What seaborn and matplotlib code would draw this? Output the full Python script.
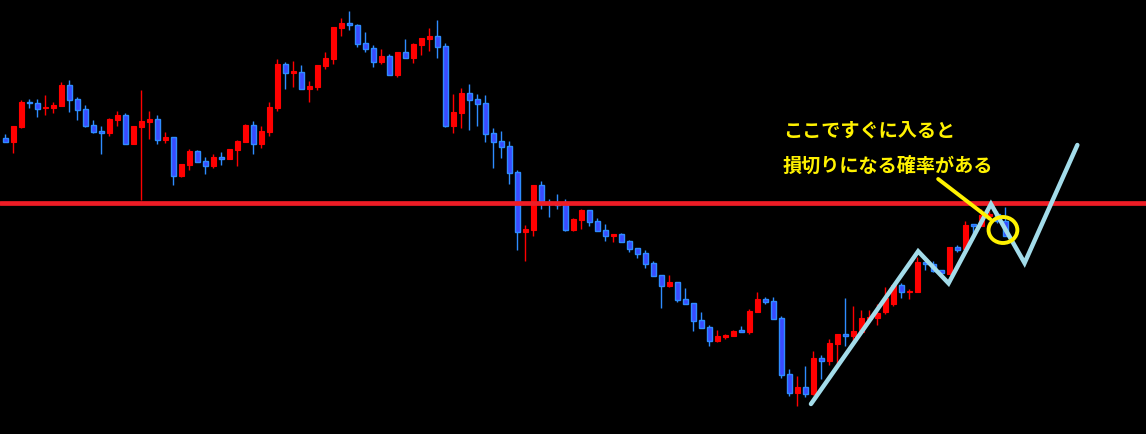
import numpy as np
import pandas as pd
import matplotlib
matplotlib.use("Agg")
import matplotlib.pyplot as plt
import seaborn as sns
from matplotlib.patches import Ellipse

# ---- candle data (price units) ----
opens = [295.7, 292.3, 307.3, 332, 331, 326, 326, 328.3, 349, 334.7,
         324.7, 309, 303, 301.3, 314.3, 319, 290.3, 307.3, 312, 315,
         294.3, 297, 258.3, 269.3, 283, 272.7, 268.3, 277, 275.3, 284.3,
         292.3, 309, 290.3, 302.3, 326.3, 370, 361.5, 362, 345.3, 347,
         368, 375.3, 406, 411, 409, 391, 386, 372.3, 378, 359.3,
         382, 376.3, 389.3, 395.3, 398, 388, 308.3, 321.3, 341, 335,
         331, 301, 293, 288, 262, 202.3, 204, 249, 232, 231,
         232, 204, 214, 224, 213, 204, 198.3, 200, 193, 186,
         181, 171, 159, 148.3, 152, 135, 131, 114, 107, 93.3,
         97, 98.3, 103.5, 102.3, 122.3, 135, 133, 116, 60, 41.3,
         47.3, 40.3, 76, 73.3, 90.3, 100, 98.3, 102.3, 115.3, 116.3,
         122, 130, 149, 141.7, 142.3, 172, 169.7, 163.7, 160, 187,
         185, 209.5, 208.3, 218.3, 220, 213]
closes = [292.3, 308, 332, 330.7, 325.3, 326.7, 329, 349, 334.3, 324.3,
          308.3, 302.3, 301.3, 315, 319, 290.3, 308, 313, 315, 294.3,
          297, 258.3, 270, 283, 272.3, 268.3, 277, 275.3, 285, 293,
          309, 290.3, 303, 327, 370, 361.3, 362.2, 345.3, 347.7, 369,
          376, 407, 411, 408.7, 390.3, 385.3, 372.3, 378, 359.3, 382,
          376.3, 390, 396, 398, 387.3, 308.3, 322, 341, 334.3, 330.3,
          300.3, 292.3, 287.3, 261.3, 202.3, 205, 249, 232.7, 230, 229,
          204, 215, 224, 212.3, 203.3, 198.3, 200, 192.3, 185.3, 180.3,
          170.3, 158.3, 148.3, 152, 134.3, 130.3, 113.3, 106.3, 93.3, 98,
          99.3, 103, 102.5, 123, 135, 132.3, 115.3, 59.3, 41.3, 47.3,
          40.3, 76, 73.3, 91, 100, 98.3, 103, 116, 117, 121,
          136, 149, 141.7, 143.3, 172, 169.7, 162.7, 161.3, 187, 184.3,
          209, 208.5, 219, 220, 213, 198.3]
highs = [300, 308, 333.7, 335, 335, 339, 332, 352, 354, 337,
         329, 314, 308, 316, 323, 321, 308, 344, 323, 319,
         302, 297, 270, 285, 284, 277, 280, 282, 285, 294,
         309.7, 313, 308, 332, 375, 372, 373, 369, 353, 369,
         382, 407, 416, 423, 410, 402, 389, 385, 380, 382,
         395, 391, 396, 406, 414, 391, 340, 346, 350, 340,
         339, 306, 303, 293, 264.3, 209, 249, 253, 235, 240,
         235, 216, 225, 224, 216, 210, 200, 201, 194, 186,
         184, 173, 159, 159, 152, 146, 131, 122, 109, 104,
         100, 104, 108, 125, 142, 137, 137, 118, 65, 58,
         68, 83, 79, 95, 100, 136, 128, 124, 124, 130,
         147, 149, 151, 145, 177, 173.3, 173, 164, 187, 189,
         213, 210, 225, 223, 223, 227]
lows = [292, 281.3, 306.3, 326.3, 317.3, 319.3, 321.3, 328.3, 322.3, 314.3,
        307.3, 301.3, 280.3, 298.3, 308.3, 290.3, 290.3, 234, 295.3, 290.3,
        291.3, 249.3, 257.3, 264.3, 272.3, 260.3, 266.3, 269.3, 275.3, 268.3,
        292.3, 280.3, 286.3, 298.3, 323.3, 345.3, 347.3, 345.3, 332.3, 344.3,
        365.3, 370.3, 398.3, 404, 387.3, 382.3, 367.3, 370.3, 359.3, 357.3,
        376.3, 371.3, 379.3, 383.3, 376.3, 307.3, 301.3, 306.3, 304.3, 308.3,
        292.3, 266.3, 276.3, 250.3, 184.3, 173.3, 198.3, 225, 217.3, 225,
        203, 203, 205, 208.3, 203.3, 193.3, 192.3, 192.3, 182.3, 176.3,
        166.3, 158.3, 126.3, 147.3, 132.3, 130.3, 103.3, 106.3, 88.3, 92.3,
        95.3, 98.3, 102.3, 100.3, 122.3, 130.3, 115.3, 56.3, 38.3, 28.3,
        37.3, 39, 55, 69.3, 70.3, 88.3, 93.3, 102.3, 111.7, 109.3,
        120, 128, 136, 135, 142.3, 163.7, 161.7, 161, 160, 182.3,
        185, 200, 208, 217, 211, 198]

# ---- annotation data ----
resistance_level = 230.7
zigzag_x = [100.7, 114.1, 117.9, 123.2, 127.4, 134.0]
zigzag_y = [30, 182.7, 150.7, 230, 171, 289]
circle_center = (124.7, 204)
pointer_x = [116.6, 123.1]
pointer_y = [255, 215]
note_lines = ["ここですぐに入ると", "損切りになる確率がある"]
note_x = 97.2
note_y = [304, 269]

df = pd.DataFrame({"open": opens, "close": closes, "high": highs, "low": lows})
df["idx"] = np.arange(len(df))
df["up"] = df["close"] >= df["open"]
# equal-open/close dojis: keep colour from reading order
df.loc[[5, 36], "up"] = True
df.loc[[92, 121], "up"] = False

sns.set_theme(style="dark")
plt.rcParams["font.family"] = ["Noto Sans CJK JP", "DejaVu Sans"]

fig = plt.figure(figsize=(11.46, 4.35), dpi=100, facecolor="black")
ax = fig.add_axes([0, 0, 1, 1])
ax.set_facecolor("black")

RED = "#FF0000"
BLUE_FILL = "#3A4BFF"
BLUE_EDGE = "#2E8CFF"

up = df[df["up"]]
dn = df[~df["up"]]

ax.vlines(up["idx"], up["low"], up["high"], color=RED, lw=1.0, zorder=2)
ax.vlines(dn["idx"], dn["low"], dn["high"], color=BLUE_EDGE, lw=1.0, zorder=2)

def body(d):
    b = np.minimum(d["open"], d["close"])
    h = np.maximum(np.abs(d["close"] - d["open"]), 1.5)
    return b, h

b, h = body(up)
ax.bar(up["idx"], h, bottom=b, width=0.6, color=RED, edgecolor=RED, lw=0.8, zorder=3)
b, h = body(dn)
ax.bar(dn["idx"], h, bottom=b, width=0.55, color=BLUE_FILL, edgecolor=BLUE_EDGE, lw=1.0, zorder=3)

ax.axhline(resistance_level, color="#EE1C25", lw=3.4, zorder=4)

sns.lineplot(x=zigzag_x, y=zigzag_y, ax=ax, color="#A3DCEA", lw=3.2, sort=False,
             zorder=5, solid_joinstyle="miter")

ax.plot(pointer_x, pointer_y, color="#FFF200", lw=2.8, solid_capstyle="round", zorder=6)
ax.add_patch(Ellipse(circle_center, width=3.6, height=26, fill=False,
                     edgecolor="#FFF200", lw=2.8, zorder=6))

for txt, yy in zip(note_lines, note_y):
    ax.text(note_x, yy, txt, color="#FFF200", fontsize=13.8, fontweight="bold",
            va="center", ha="left", zorder=7)

ax.set_xlim(-0.667, 142.58)
ax.set_ylim(0, 435)
ax.set_xticks([])
ax.set_yticks([])
for s in ax.spines.values():
    s.set_visible(False)

fig.savefig("out.png", dpi=100, facecolor="black")
